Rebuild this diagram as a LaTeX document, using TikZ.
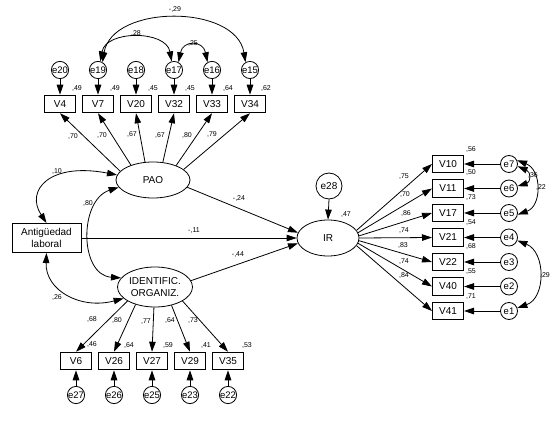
\documentclass[tikz,border=0pt]{standalone}
\usepackage{fontspec}
\setmainfont{Liberation Sans}
\usetikzlibrary{arrows.meta,shapes.geometric}
\begin{document}
\begin{tikzpicture}[x=1pt,y=-1pt,
  line width=0.8pt,
  >={Triangle[length=10pt,width=6.5pt]},
  obs/.style={draw,line width=1pt,rectangle,minimum width=31pt,minimum height=17.5pt,inner sep=0pt,font=\fontsize{10}{12}\selectfont},
  err/.style={draw,circle,minimum size=17pt,inner sep=0pt,font=\fontsize{9.5}{10}\selectfont},
  lat/.style={draw,ellipse,inner sep=0pt,font=\fontsize{10}{11.5}\selectfont,align=center},
  val/.style={font=\fontsize{7}{8}\selectfont,inner sep=0pt},
]
\useasboundingbox (0,0) rectangle (560,422);
% ---- latent variables
\node[lat,minimum width=74pt,minimum height=36pt] (PAO) at (153,180) {PAO};
\node[lat,minimum width=75pt,minimum height=40pt] (ID) at (155,287) {IDENTIFIC.\\ORGANIZ.};
\node[lat,minimum width=62pt,minimum height=36pt] (IR) at (328,238) {IR};
\node[draw,line width=1pt,rectangle,minimum width=69pt,minimum height=29pt,inner sep=0pt,align=center,font=\fontsize{10}{12}\selectfont] (ant) at (46.5,238) {Antigüedad\\laboral};
\node[err,minimum size=26pt,font=\fontsize{10}{11}\selectfont] (e28) at (329,186) {e28};
% ---- top indicators
\foreach \v/\e/\x in {V4/e20/60, V7/e19/98, V20/e18/136, V32/e17/174, V33/e16/212, V34/e15/250}{
  \node[obs] (\v) at (\x,104) {\v};
  \node[err] (\e) at (\x,70) {\e};
  \draw[->] (\e.south) -- (\v.north);
}
% ---- bottom indicators
\foreach \v/\e/\x in {V6/e27/76, V26/e26/114, V27/e25/152, V29/e23/190, V35/e22/228}{
  \node[obs] (\v) at (\x,361) {\v};
  \node[err] (\e) at (\x,395) {\e};
  \draw[->] (\e.north) -- (\v.south);
}
% ---- right indicators
\foreach \v/\e/\y in {V10/e7/164, V11/e6/188.5, V17/e5/213, V21/e4/237.5, V22/e3/262, V40/e2/286.5, V41/e1/311}{
  \node[obs] (\v) at (448,\y) {\v};
  \node[err] (\e) at (509,\y) {\e};
  \draw[->] (\e.west) -- (\v.east);
}
% ---- loadings PAO
\draw[->] (PAO.165) -- (V4.south);
\draw[->] (PAO.146) -- (V7.south);
\draw[->] (PAO.114) -- (V20.south);
\draw[->] (PAO.61) -- (V32.south);
\draw[->] (PAO.32) -- (V33.south);
\draw[->] (PAO.19) -- (V34.south);
% ---- loadings ID
\draw[->] (ID.207) -- (V6.north);
\draw[->] (ID.222) -- (V26.north);
\draw[->] (ID.267) -- (V27.north);
\draw[->] (ID.312) -- (V29.north);
\draw[->] (ID.333) -- (V35.north);
% ---- loadings IR
\draw[->] (IR.15) -- (V10.west);
\draw[->] (IR.10) -- (V11.west);
\draw[->] (IR.4) -- (V17.west);
\draw[->] (IR.0) -- (V21.west);
\draw[->] (IR.-5) -- (V22.west);
\draw[->] (IR.-10) -- (V40.west);
\draw[->] (IR.-15) -- (V41.west);
% ---- structural paths
\draw[->] (PAO.-12) -- (IR.170);
\draw[->] (ant.east) -- (IR.west);
\draw[->] (ID.10) -- (IR.190);
\draw[->] (e28.south) -- (IR.north);
% ---- covariances
\draw[<->] (ant.north) .. controls (25,190) and (50,162) .. (PAO.172);
\draw[<->] (PAO.192) .. controls (79,200) and (79,275) .. (ID.165);
\draw[<->] (ant.south) .. controls (45,290) and (80,310) .. (ID.200);
\draw[<->] (e19.60) .. controls (112,4) and (236,4) .. (e15.120);
\draw[<->] (e19.75) .. controls (106,30) and (166,30) .. (e17.105);
\draw[<->] (e17.60) .. controls (183,40) and (203,40) .. (e16.120);
\draw[<->] (e7.-15) .. controls (531,172) and (531,182) .. (e6.15);
\draw[<->] (e7.25) .. controls (542,170) and (542,206) .. (e5.-10);
\draw[<->] (e4.-20) .. controls (546,252) and (546,298) .. (e1.20);
% ---- values
\foreach \t/\x/\y [count=\i] in {{,49}/77/89, {,49}/115/89, {,45}/153/89, {,45}/190/89, {,64}/228/89, {,62}/266/89,
  {,70}/73/137, {,70}/102/136, {,67}/132/135, {,67}/160/136, {,80}/187/136, {,79}/212/135,
  {,10}/57/172, {,80}/88/204, {,26}/57/298,
  {-,24}/239/199, {-,11}/194/231, {-,44}/238/255, {,47}/346/215,
  {,75}/404/177, {,70}/405/195, {,86}/406/214, {,74}/404/231, {,83}/403/246, {,74}/404/262, {,84}/404/276,
  {,56}/471/150, {,50}/471/173, {,73}/471/198, {,54}/471/223, {,68}/471/247, {,55}/471/272, {,71}/471/297,
  {,68}/92/320, {,80}/117/321, {,77}/146/322, {,64}/170/321, {,73}/193/321,
  {,46}/92/345, {,64}/129/346, {,59}/168/346, {,41}/206/346, {,53}/247/346,
  {,36}/533/176, {,22}/541/188, {,29}/545/276,
  {-,29}/175/10, {,28}/136/34, {,25}/193/44}{
  \node[val] (val\i) at (\x,\y) {\t};
}
\end{tikzpicture}
\end{document}
